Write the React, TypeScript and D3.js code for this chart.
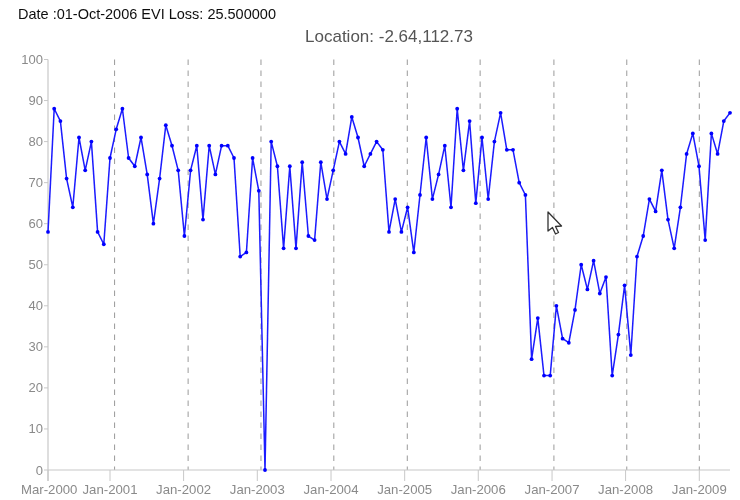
import React from "react";
import * as d3 from "d3";

const evi = [58,88,85,71,64,81,73,80,58,55,76,83,88,76,74,81,72,60,71,84,79,73,57,73,79,61,79,72,79,79,76,52,53,76,68,0,80,74,54,74,54,75,57,56,75,66,73,80,77,86,81,74,77,80,78,58,66,58,64,53,67,81,66,72,79,64,88,73,85,65,81,66,80,87,78,78,70,67,27,37,23,23,40,32,31,39,50,44,51,43,47,23,33,45,28,52,57,66,63,73,61,54,64,77,82,74,56,82,77,85,87];
const yTicks = [0,10,20,30,40,50,60,70,80,90,100];
const xTickLabels = ["Mar-2000","Jan-2001","Jan-2002","Jan-2003","Jan-2004","Jan-2005","Jan-2006","Jan-2007","Jan-2008","Jan-2009"];
const xTickIndex = [0,10,21.87,33.76,45.65,57.53,69.4,81.3,93.16,105.05];
const markerIndex = [10.74,22.6,34.35,46.1,57.95,69.7,81.6,93.35,105.05];

const W = 740, H = 500;
const left = 48, right = 730, top = 59.5, bottom = 470;
const axisColor = "#c8c8c8";
const labelColor = "#8a8a8a";
const font = "'Liberation Sans', Arial, sans-serif";

export default function App() {
  const x = d3.scaleLinear().domain([0, evi.length - 1]).range([left, right]);
  const y = d3.scaleLinear().domain([0, 100]).range([bottom, top]);
  const line = d3.line<number>().x((_, i) => x(i)).y((d) => y(d));
  return (
    <svg width={W} height={H} style={{ position: "fixed", left: 0, top: 0, background: "#fff" }} fontFamily={font}>
      <defs>
        <filter id="soft" x="0" y="0" width="100%" height="100%">
          <feGaussianBlur stdDeviation="0.35" />
        </filter>
      </defs>
      <g filter="url(#soft)">
        <text x={18} y={18.5} fontSize={14.5} fill="#111">Date :01-Oct-2006 EVI Loss: 25.500000</text>
        <text x={389} y={41.5} fontSize={17} fill="#555" textAnchor="middle">Location: -2.64,112.73</text>
        {markerIndex.map((m) => (
          <line key={m} x1={x(m)} x2={x(m)} y1={top} y2={bottom} stroke="#9a9a9a" strokeWidth={1} strokeDasharray="5.5,5.5" />
        ))}
        <line x1={left} x2={left} y1={top} y2={bottom + 11} stroke={axisColor} strokeWidth={1.2} />
        <line x1={left} x2={right} y1={bottom} y2={bottom} stroke={axisColor} strokeWidth={1.2} />
        {yTicks.map((t) => (
          <g key={t}>
            <line x1={left - 4} x2={left} y1={y(t)} y2={y(t)} stroke={axisColor} />
            <text x={left - 5} y={y(t) + 4.5} fontSize={13} fill={labelColor} textAnchor="end">{t}</text>
          </g>
        ))}
        {xTickLabels.map((l, i) => (
          <g key={l}>
            <line x1={x(xTickIndex[i])} x2={x(xTickIndex[i])} y1={bottom} y2={bottom + 11} stroke={axisColor} />
            <text x={i === 0 ? 21 : x(xTickIndex[i])} y={494} fontSize={13.2} fill={labelColor} textAnchor={i === 0 ? "start" : "middle"}>{l}</text>
          </g>
        ))}
        <path d={line(evi) ?? ""} fill="none" stroke="#1a1aff" strokeWidth={1.5} strokeLinejoin="round" />
        {evi.map((d, i) => (
          <circle key={i} cx={x(i)} cy={y(d)} r={1.9} fill="#0000ff" />
        ))}
        <path d="M548 212 L548 231 L552.5 227.5 L555.5 234 L558.5 232.5 L555.5 226.5 L561.5 226 Z" fill="#fff" stroke="#333" strokeWidth={1.3} strokeLinejoin="round" />
      </g>
    </svg>
  );
}
